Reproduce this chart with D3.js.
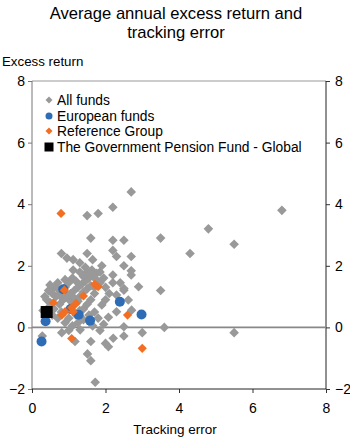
<!DOCTYPE html>
<html><head><meta charset="utf-8">
<script src="https://cdn.jsdelivr.net/npm/d3@7"></script>
<style>body{margin:0;background:#fff}svg{display:block}text{font-family:"Liberation Sans",Arial,sans-serif;fill:#000}</style>
</head><body><svg id="c" width="350" height="438"></svg>
<script>
const titleLines = ["Average annual excess return and", "tracking error"];
const yTicks = [-2, 0, 2, 4, 6, 8];
const xTicks = [0, 2, 4, 6, 8];
const seriesNames = ["All funds", "European funds", "Reference Group", "The Government Pension Fund - Global"];

const allX = [6.8,4.8,4.3,5.5,3.5,3.5,3.6,5.5,2.7,2.2,1.8,1.5,1.6,2.2,2.5,2.2,2.3,2.7,2.5,2.7,2.2,2.7,2.9,2.5,2.5,0.8,0.95,1.12,1.3,1.5,1.65,1.12,1.3,1.63,1.76,1.9,2.08,2.3,2.62,2.71,2.5,2.5,3.0,2.21,2.0,2.08,1.85,1.6,1.51,1.6,1.72,1.31,1.17,0.81,0.28,
0.49,0.6,0.7,0.55,0.65,0.75,0.4,0.5,0.45,0.6,0.75,0.85,0.95,1.05,1.15,1.25,1.35,1.45,1.55,1.65,1.75,1.85,1.6,1.5,1.4,1.3,1.0,0.9,1.1,1.2,1.4,1.5,1.85,1.95,2.0,2.1,1.7,1.6,1.5,1.4,1.3,1.2,1.0,0.9,1.1,1.25,1.4,1.55,1.7,1.8,1.95,1.65,1.0,0.7,0.55,0.8,1.15,1.05,1.7,2.2,2.3,2.4,2.0,1.9,1.45,0.3,
0.35,0.45,0.7,0.9,1.15,1.25,0.5];
const allY = [3.8,3.2,2.4,2.7,2.9,1.2,0.0,-0.17,4.4,3.9,3.7,3.63,2.9,2.83,2.83,2.5,2.3,2.3,2.0,1.84,1.7,1.7,1.32,1.26,1.21,2.4,2.25,2.2,2.1,2.4,2.2,1.86,1.8,1.86,1.76,0.73,0.33,0.51,0.89,0.56,0.02,-0.28,-0.17,-0.35,-0.52,-0.63,-0.1,-0.46,-0.86,-1.08,-1.78,-0.08,-0.46,-0.17,-0.28,
1.38,1.3,1.25,1.1,1.0,1.05,0.9,0.8,0.65,0.6,0.75,0.9,1.0,1.1,1.2,1.3,1.4,1.5,1.6,1.7,1.55,1.45,1.35,1.25,1.15,1.0,1.45,1.55,1.6,1.5,1.65,1.8,1.8,1.6,1.3,1.1,1.1,0.9,0.75,0.6,0.55,0.4,0.3,0.15,0.05,0.15,0.25,0.4,0.5,0.3,0.1,0.05,-0.1,0.3,0.4,0.5,0.75,0.85,1.3,1.45,1.05,1.45,0.9,2.0,1.95,0.55,
1.0,1.2,1.45,1.3,0.95,0.85,0.5];

const euroX = [0.85,1.05,1.27,1.58,2.39,2.98,0.37,0.26];
const euroY = [1.24,0.6,0.41,0.22,0.83,0.42,0.2,-0.46];

const refX = [0.79,0.88,1.71,1.8,0.58,1.40,1.20,1.08,0.90,0.81,1.12,2.60,1.08,3.0];
const refY = [3.7,1.21,1.4,1.32,0.80,1.02,0.78,0.64,0.51,0.40,0.51,0.40,-0.36,-0.68];

const gpfgX = [0.4];
const gpfgY = [0.5];

const colors = {gray:"#999999", blue:"#2e6db5", orange:"#f26e22", black:"#000000"};

const svg = d3.select("#c");
const x = d3.scaleLinear().domain([0,8]).range([32,326]);
const y = d3.scaleLinear().domain([-2,8]).range([389,81]);

// title
svg.append("g").selectAll("text").data(titleLines).join("text")
  .attr("x",176).attr("y",(d,i)=>19+i*19).attr("text-anchor","middle")
  .style("font-size","16.6px").text(d=>d);
svg.append("text").attr("x",2).attr("y",66).style("font-size","13.3px").text("Excess return");
svg.append("text").attr("x",175).attr("y",434).attr("text-anchor","middle").style("font-size","13.5px").text("Tracking error");

// axes
const la = svg.append("g").attr("transform","translate(32,0)")
  .call(d3.axisLeft(y).tickValues(yTicks).tickFormat(d3.format("d")).tickSize(4).tickSizeOuter(0).tickPadding(3));
const ra = svg.append("g").attr("transform","translate(326,0)")
  .call(d3.axisRight(y).tickValues(yTicks).tickFormat(d3.format("d")).tickSize(4).tickSizeOuter(0).tickPadding(5));
const ba = svg.append("g").attr("transform","translate(0,389)")
  .call(d3.axisBottom(x).tickValues(xTicks).tickFormat(d3.format("d")).tickSize(4).tickSizeOuter(0).tickPadding(10));
[la,ra,ba].forEach(g=>{
  g.selectAll("text").style("font-size","14px").style("font-family","'Liberation Sans',Arial,sans-serif").attr("fill","#000");
  g.select(".domain").remove();
  g.selectAll(".tick line").attr("stroke","#333");
});
la.selectAll(".tick line").attr("stroke","#777");

// frame
svg.append("line").attr("x1",x(0)).attr("x2",x(8)).attr("y1",y(8)).attr("y2",y(8)).attr("stroke","#999");
svg.append("line").attr("x1",x(0)).attr("x2",x(0)).attr("y1",y(8)).attr("y2",y(-2)).attr("stroke","#777");
svg.append("line").attr("x1",x(8)).attr("x2",x(8)).attr("y1",y(8)).attr("y2",y(-2)).attr("stroke","#222");
svg.append("line").attr("x1",x(0)).attr("x2",x(8)).attr("y1",y(-2)).attr("y2",y(-2)).attr("stroke","#222");
// zero line
svg.append("line").attr("x1",x(0)).attr("x2",x(8)).attr("y1",y(0)).attr("y2",y(0)).attr("stroke","#888").attr("stroke-width",1.6);

const diamond = s => `M0,${-s}L${s},0L0,${s}L${-s},0Z`;

// gray
svg.append("g").selectAll("path").data(d3.range(allX.length)).join("path")
  .attr("d",diamond(4.8)).attr("fill",colors.gray)
  .attr("transform",i=>`translate(${x(allX[i])},${y(allY[i])})`);
// blue
svg.append("g").selectAll("circle").data(d3.range(euroX.length)).join("circle")
  .attr("cx",i=>x(euroX[i])).attr("cy",i=>y(euroY[i])).attr("r",5).attr("fill",colors.blue);
// orange
svg.append("g").selectAll("path").data(d3.range(refX.length)).join("path")
  .attr("d",diamond(4.6)).attr("fill",colors.orange)
  .attr("transform",i=>`translate(${x(refX[i])},${y(refY[i])})`);
// black
svg.append("g").selectAll("rect").data(d3.range(gpfgX.length)).join("rect")
  .attr("x",i=>x(gpfgX[i])-6).attr("y",i=>y(gpfgY[i])-6).attr("width",12).attr("height",12).attr("fill",colors.black);

// legend
const lg = svg.append("g");
const rows = [100,116,131,147];
lg.append("path").attr("d",diamond(3.5)).attr("fill",colors.gray).attr("transform",`translate(49,${rows[0]})`);
lg.append("circle").attr("cx",49).attr("cy",rows[1]).attr("r",3.5).attr("fill",colors.blue);
lg.append("path").attr("d",diamond(3.5)).attr("fill",colors.orange).attr("transform",`translate(49,${rows[2]})`);
lg.append("rect").attr("x",44.5).attr("y",rows[3]-4.5).attr("width",9).attr("height",9).attr("fill",colors.black);
lg.selectAll("text").data(seriesNames).join("text")
  .attr("x",57).attr("y",(d,i)=>rows[i]).attr("dy","0.36em").style("font-size","13.8px").text(d=>d);
</script></body></html>
